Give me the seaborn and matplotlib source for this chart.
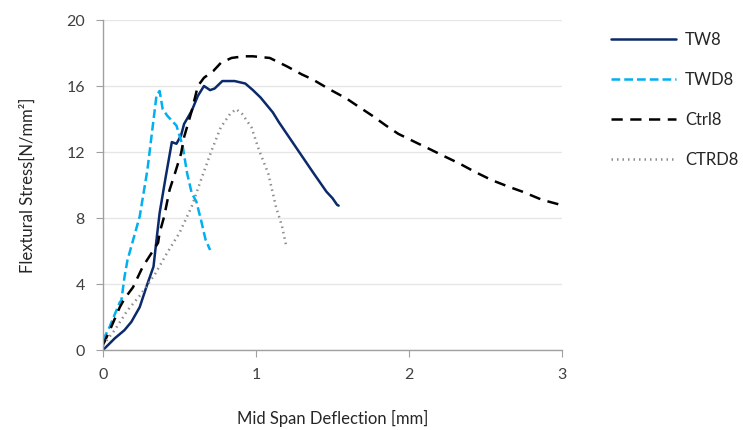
import numpy as np
import pandas as pd
import matplotlib
matplotlib.use("Agg")
import matplotlib.pyplot as plt
import seaborn as sns

# data
tw8_x = [0, 0.033, 0.076, 0.14, 0.185, 0.24, 0.29, 0.33, 0.35, 0.37, 0.41, 0.45, 0.48, 0.51, 0.53,
         0.58, 0.62, 0.66, 0.70, 0.73, 0.78, 0.86, 0.93, 0.98, 1.03, 1.11, 1.15, 1.26, 1.37, 1.46,
         1.50, 1.53, 1.54]
tw8_y = [0, 0.3, 0.7, 1.2, 1.7, 2.6, 4.0, 5.05, 6.7, 8.3, 10.5, 12.6, 12.5, 13.0, 13.7,
         14.5, 15.4, 16.0, 15.75, 15.85, 16.3, 16.3, 16.15, 15.75, 15.3, 14.4, 13.8, 12.3, 10.8, 9.6,
         9.2, 8.8, 8.75]

twd8_x = [0, 0.043, 0.11, 0.12, 0.14, 0.16, 0.21, 0.24, 0.29, 0.35, 0.37, 0.39, 0.42, 0.48, 0.50,
          0.52, 0.55, 0.58, 0.61, 0.64, 0.67, 0.70]
twd8_y = [0.6, 1.4, 2.9, 3.0, 4.4, 5.45, 7.1, 8.1, 10.9, 15.45, 15.7, 14.6, 14.2, 13.6, 13.0,
          12.4, 10.7, 9.5, 9.0, 7.9, 6.7, 6.06]

ctrl8_x = [0, 0.054, 0.11, 0.14, 0.196, 0.26, 0.33, 0.36, 0.37, 0.40, 0.435, 0.47, 0.51, 0.53, 0.58,
           0.62, 0.66, 0.72, 0.77, 0.84, 0.92, 0.98, 1.09, 1.2, 1.30, 1.37, 1.48, 1.59, 1.67, 1.76,
           1.85, 1.93, 2.04, 2.13, 2.24, 2.33, 2.43, 2.54, 2.65, 2.74, 2.87, 2.99]
ctrl8_y = [0.3, 1.4, 2.6, 3.1, 3.8, 5.05, 6.06, 6.5, 7.1, 8.1, 9.7, 10.7, 11.9, 12.9, 14.5,
           16.0, 16.5, 16.9, 17.4, 17.7, 17.8, 17.8, 17.7, 17.2, 16.7, 16.4, 15.8, 15.25, 14.75, 14.2,
           13.6, 13.1, 12.6, 12.2, 11.7, 11.3, 10.8, 10.3, 9.9, 9.6, 9.1, 8.8]

ctrd8_x = [0, 0.076, 0.16, 0.25, 0.34, 0.42, 0.50, 0.58, 0.64, 0.71, 0.77, 0.83, 0.87, 0.91, 0.97,
           1.02, 1.08, 1.13, 1.17, 1.20]
ctrd8_y = [0.3, 1.2, 2.4, 3.4, 4.6, 5.9, 7.1, 8.7, 10.3, 12.1, 13.5, 14.3, 14.6, 14.3, 13.5,
           12.1, 10.7, 8.7, 7.5, 6.2]

series_names = ["TW8", "TWD8", "Ctrl8", "CTRD8"]
x_ticks = [0, 1, 2, 3]
y_ticks = [0, 4, 8, 12, 16, 20]

sns.set_style("white")
plt.rcParams['font.family'] = ['Lato', 'DejaVu Sans']

fig = plt.figure(figsize=(7.43, 4.3), dpi=100)
ax = fig.add_axes([103 / 743, 1 - 350 / 430, (562 - 103) / 743, (350 - 20) / 430])

styles = [
    (tw8_x, tw8_y, "#0B2A6B", "-", 1.8),
    (twd8_x, twd8_y, "#00B0F0", (0, (3.5, 1.6)), 1.8),
    (ctrl8_x, ctrl8_y, "black", (0, (4.5, 3)), 1.8),
    (ctrd8_x, ctrd8_y, "#8C8C8C", (0, (0.6, 1.6)), 1.8),
]
for name, (xs, ys, col, ls, lw) in zip(series_names, styles):
    df = pd.DataFrame({"x": xs, "y": ys})
    sns.lineplot(data=df, x="x", y="y", ax=ax, color=col, linestyle=ls, linewidth=lw,
                 sort=False, label=name, estimator=None)

ax.set_xlim(0, 3)
ax.set_ylim(0, 20)
ax.set_xticks(x_ticks)
ax.set_yticks(y_ticks)
ax.tick_params(labelsize=11.5, colors="#404040", length=5, width=0.8, direction="out",
               bottom=True, left=True, pad=8)
ax.tick_params(axis="both", labelcolor="#404040")
ax.yaxis.grid(True, color="#E6E6E6", linewidth=1)
ax.set_axisbelow(True)
for s in ["top", "right"]:
    ax.spines[s].set_visible(False)
for s in ["left", "bottom"]:
    ax.spines[s].set_color("#A0A0A0")
    ax.spines[s].set_linewidth(1)
ax.tick_params(color="#A0A0A0")

ax.set_xlabel("Mid Span Deflection [mm]", fontsize=12, color="#262626", labelpad=20)
ax.set_ylabel("Flextural Stress[N/mm²]", fontsize=12, color="#262626", labelpad=22)

ax.legend(loc="upper left", bbox_to_anchor=(1.075, 1.01), frameon=False, fontsize=12,
          handlelength=3.9, labelspacing=1.45, handletextpad=0.5, labelcolor="#262626")

fig.savefig("out.png", dpi=100)
